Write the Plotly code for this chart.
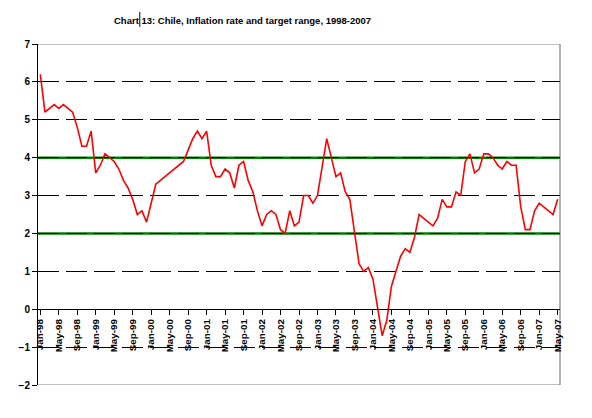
import plotly.graph_objects as go
import pandas as pd

# monthly CPI inflation, 12-month % change, Jan-98 .. May-07
months = [d.strftime('%b-%y') for d in pd.date_range('1998-01-01', '2007-05-01', freq='MS')]

inflation = [
    # 1998
    6.2, 5.2, 5.3, 5.4, 5.3, 5.4, 5.3, 5.2, 4.8, 4.3, 4.3, 4.7,
    # 1999
    3.6, 3.8, 4.1, 4.0, 3.9, 3.7, 3.4, 3.2, 2.9, 2.5, 2.6, 2.3,
    # 2000
    2.8, 3.3, 3.4, 3.5, 3.6, 3.7, 3.8, 3.9, 4.2, 4.5, 4.7, 4.5,
    # 2001
    4.7, 3.8, 3.5, 3.5, 3.7, 3.6, 3.2, 3.8, 3.9, 3.4, 3.1, 2.6,
    # 2002
    2.2, 2.5, 2.6, 2.5, 2.1, 2.0, 2.6, 2.2, 2.3, 3.0, 3.0, 2.8,
    # 2003
    3.0, 3.7, 4.5, 4.0, 3.5, 3.6, 3.1, 2.9, 2.1, 1.2, 1.0, 1.1,
    # 2004
    0.8, 0.1, -0.7, -0.3, 0.6, 1.0, 1.4, 1.6, 1.5, 1.9, 2.5, 2.4,
    # 2005
    2.3, 2.2, 2.4, 2.9, 2.7, 2.7, 3.1, 3.0, 3.9, 4.1, 3.6, 3.7,
    # 2006
    4.1, 4.1, 4.0, 3.8, 3.7, 3.9, 3.8, 3.8, 2.7, 2.1, 2.1, 2.6,
    # 2007
    2.8, 2.7, 2.6, 2.5, 2.9,
]

target_range = [2, 4]
y_min, y_max = -2, 7
y_ticks = list(range(y_min, y_max + 1))
x_ticks = months[::4]

FONT = 'Liberation Sans, Arial, sans-serif'

fig = go.Figure()
fig.add_trace(go.Scatter(x=months, y=inflation, mode='lines',
                         line=dict(color='#ff0000', width=1.6), showlegend=False))

# target band limits, green solid lines
for lvl in target_range:
    fig.add_shape(type='line', xref='paper', x0=0, x1=1, y0=lvl, y1=lvl,
                  line=dict(color='#008000', width=2.5), layer='between')

# grey frame: top, bottom, right
for lvl in (y_min, y_max):
    fig.add_shape(type='line', xref='paper', x0=0, x1=1, y0=lvl, y1=lvl,
                  line=dict(color='#808080', width=1.2), layer='between')
fig.add_shape(type='line', xref='paper', x0=1, x1=1, y0=y_min, y1=y_max,
              line=dict(color='#808080', width=1.2), layer='between')

# text-cursor mark in the title
fig.add_shape(type='line', xref='paper', yref='paper', x0=0.195, x1=0.195, y0=1.05, y1=1.094,
              line=dict(color='black', width=1))

fig.add_annotation(text='<b>Chart 13: Chile, Inflation rate and target range, 1998-2007</b>',
                   xref='paper', yref='paper', x=0.391, y=1.07, showarrow=False,
                   xanchor='center', yanchor='middle', font=dict(family=FONT, size=9.5, color='black'))

fig.update_xaxes(type='category', range=[-0.5, len(months) - 0.5],
                 anchor='free', position=2 / 9, automargin=False,
                 showline=True, linecolor='black', linewidth=1,
                 tickvals=x_ticks, ticktext=x_ticks, tickangle=-90,
                 ticks='outside', ticklen=5, tickcolor='black',
                 tickfont=dict(family=FONT, size=9.8, color='black', weight=700),
                 showgrid=False)

fig.update_yaxes(range=[y_min, y_max], tickvals=y_ticks, automargin=False,
                 showline=True, linecolor='black', linewidth=1,
                 ticks='outside', ticklen=5, tickcolor='black',
                 tickfont=dict(family=FONT, size=10, color='black', weight=700),
                 showgrid=True, gridcolor='black', gridwidth=1, griddash='21px,7px',
                 zeroline=True, zerolinecolor='black', zerolinewidth=1)

# page body adds ~8px offset, so margins are trimmed on top/left
fig.update_layout(width=592, height=418,
                  margin=dict(l=30, r=40, t=36, b=41),
                  plot_bgcolor='white', paper_bgcolor='white')

fig.write_html("out.html")
